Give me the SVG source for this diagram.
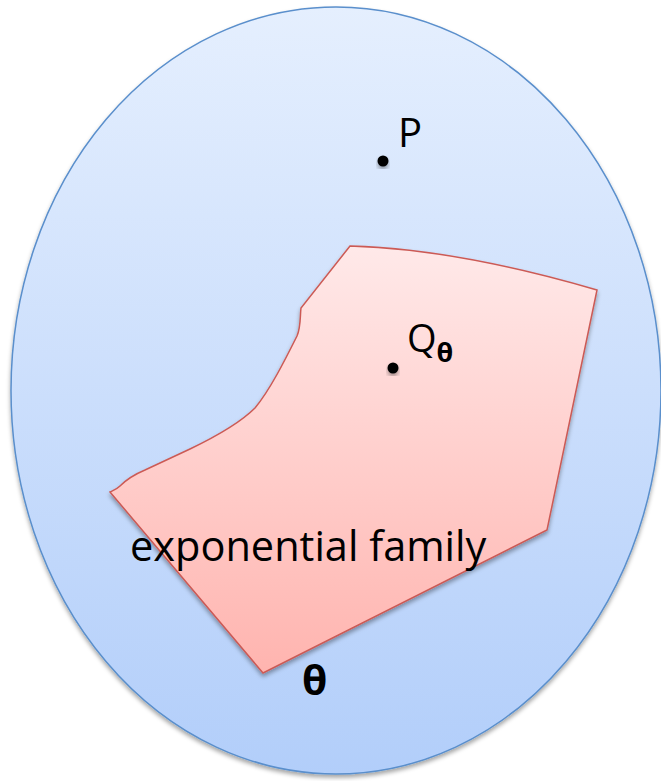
<svg xmlns="http://www.w3.org/2000/svg" width="661" height="781" viewBox="0 0 661 781">
  <defs>
    <linearGradient id="blueGrad" x1="0" y1="0" x2="0" y2="1">
      <stop offset="0" stop-color="#e5effe"/>
      <stop offset="1" stop-color="#b2cefa"/>
    </linearGradient>
    <linearGradient id="pinkGrad" x1="0" y1="0" x2="0" y2="1">
      <stop offset="0" stop-color="#ffe9e9"/>
      <stop offset="1" stop-color="#ffb4af"/>
    </linearGradient>
    <filter id="shadow" x="-10%" y="-10%" width="120%" height="125%">
      <feDropShadow dx="0" dy="3" stdDeviation="2" flood-color="#000" flood-opacity="0.35"/>
    </filter>
    <style>
      .lbl { font-family: "Open Sans", "Liberation Sans", sans-serif; fill: #000; }
      .bold { font-weight: bold; }
      .dot { fill: #000; filter: url(#shadow); }
    </style>
  </defs>

  <g id="space">
    <ellipse cx="336" cy="390.5" rx="325" ry="383.5" fill="url(#blueGrad)" stroke="#5a8fcc" stroke-width="1.5" filter="url(#shadow)"/>
  </g>

  <g id="family">
    <path d="M110,492 C114,490 117,489 120,486 C126,480 133,475 145,470 L190,449 C215,437 240,423 255,408 C270,390 285,360 297,336 C301,327 300,315 301,308 L350,246 Q457,249 597,290 L547,530 L263,673 Z" fill="url(#pinkGrad)" stroke="#cc5a55" stroke-width="1.5" filter="url(#shadow)"/>
    <text class="lbl" x="130" y="561" font-size="41.5">exponential family</text>
  </g>

  <g id="P">
    <circle class="dot" cx="383" cy="161" r="5.5"/>
    <text class="lbl" x="398" y="147" font-size="40">P</text>
  </g>

  <g id="Q">
    <circle class="dot" cx="393" cy="368" r="5.5"/>
    <text class="lbl" x="407" y="352" font-size="38">Q<tspan class="bold" font-size="27" dy="10">θ</tspan></text>
  </g>

  <g id="theta">
    <text class="lbl bold" x="302" y="695" font-size="41">θ</text>
  </g>
</svg>
